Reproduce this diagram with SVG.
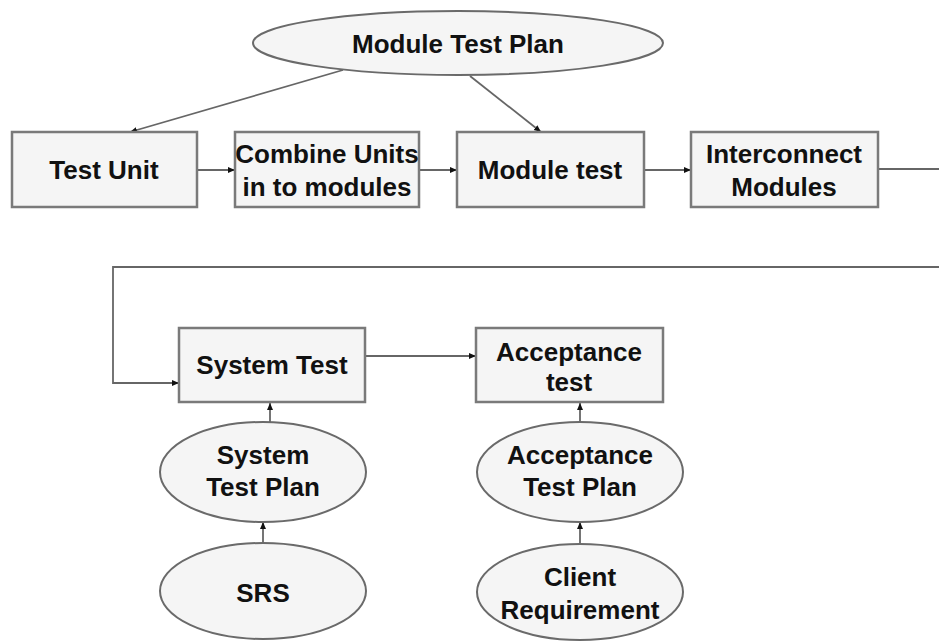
<svg xmlns="http://www.w3.org/2000/svg" width="939" height="641" viewBox="0 0 939 641">
<defs>
<marker id="ah" markerUnits="userSpaceOnUse" markerWidth="8" markerHeight="8" viewBox="0 0 8 8" refX="7" refY="4" orient="auto">
<path d="M0,1 L7,4 L0,7 Z" fill="#111"/>
</marker>
</defs>
<style>
.box{fill:#f5f5f5;stroke:#7a7a7a;stroke-width:2.5}
.ell{fill:#f5f5f5;stroke:#6a6a6a;stroke-width:2}
.lbl{font-family:"Liberation Sans",Arial,sans-serif;font-size:26px;font-weight:bold;fill:#111;text-anchor:middle;dominant-baseline:central}
.con{fill:none;stroke:#666;stroke-width:1.8}
.arr{marker-end:url(#ah)}
</style>
<rect width="939" height="641" fill="#fff"/>
<g id="connectors">
<path class="con arr" d="M343,70 L130,132"/>
<path class="con arr" d="M470,76 L541,132"/>
<path class="con arr" d="M197,170 L235,170"/>
<path class="con arr" d="M419,170 L457,170"/>
<path class="con arr" d="M644,170 L691,170"/>
<path class="con" d="M878,169 L939,169"/>
<path class="con arr" d="M939,267 L113,267 L113,383 L179,383"/>
<path class="con arr" d="M365,356 L476,356"/>
<path class="con arr" d="M270,422 L270,403"/>
<path class="con arr" d="M263,543 L263,522"/>
<path class="con arr" d="M580,422 L580,403"/>
<path class="con arr" d="M580,544 L580,522"/>
</g>
<g id="module-test-plan">
<ellipse class="ell" cx="458" cy="43" rx="205" ry="32"/>
<text class="lbl" x="458" y="44">Module Test Plan</text>
</g>
<g id="test-unit">
<rect class="box" x="12" y="132" width="185" height="75"/>
<text class="lbl" x="104" y="170">Test Unit</text>
</g>
<g id="combine-units">
<rect class="box" x="235" y="132" width="184" height="75"/>
<text class="lbl" x="327" y="154">Combine Units</text>
<text class="lbl" x="327" y="187">in to modules</text>
</g>
<g id="module-test">
<rect class="box" x="457" y="132" width="187" height="75"/>
<text class="lbl" x="550" y="170">Module test</text>
</g>
<g id="interconnect-modules">
<rect class="box" x="691" y="132" width="187" height="75"/>
<text class="lbl" x="784" y="154">Interconnect</text>
<text class="lbl" x="784" y="187">Modules</text>
</g>
<g id="system-test">
<rect class="box" x="179" y="328" width="186" height="74"/>
<text class="lbl" x="272" y="365">System Test</text>
</g>
<g id="acceptance-test">
<rect class="box" x="476" y="328" width="187" height="74"/>
<text class="lbl" x="569" y="352">Acceptance</text>
<text class="lbl" x="569" y="382">test</text>
</g>
<g id="system-test-plan">
<ellipse class="ell" cx="263" cy="472" rx="103" ry="50"/>
<text class="lbl" x="263" y="455">System</text>
<text class="lbl" x="263" y="487">Test Plan</text>
</g>
<g id="srs">
<ellipse class="ell" cx="263" cy="591" rx="103" ry="48"/>
<text class="lbl" x="263" y="593">SRS</text>
</g>
<g id="acceptance-test-plan">
<ellipse class="ell" cx="580" cy="472" rx="103" ry="50"/>
<text class="lbl" x="580" y="455">Acceptance</text>
<text class="lbl" x="580" y="487">Test Plan</text>
</g>
<g id="client-requirement">
<ellipse class="ell" cx="580" cy="592" rx="103" ry="48"/>
<text class="lbl" x="580" y="577">Client</text>
<text class="lbl" x="580" y="610">Requirement</text>
</g>
</svg>
